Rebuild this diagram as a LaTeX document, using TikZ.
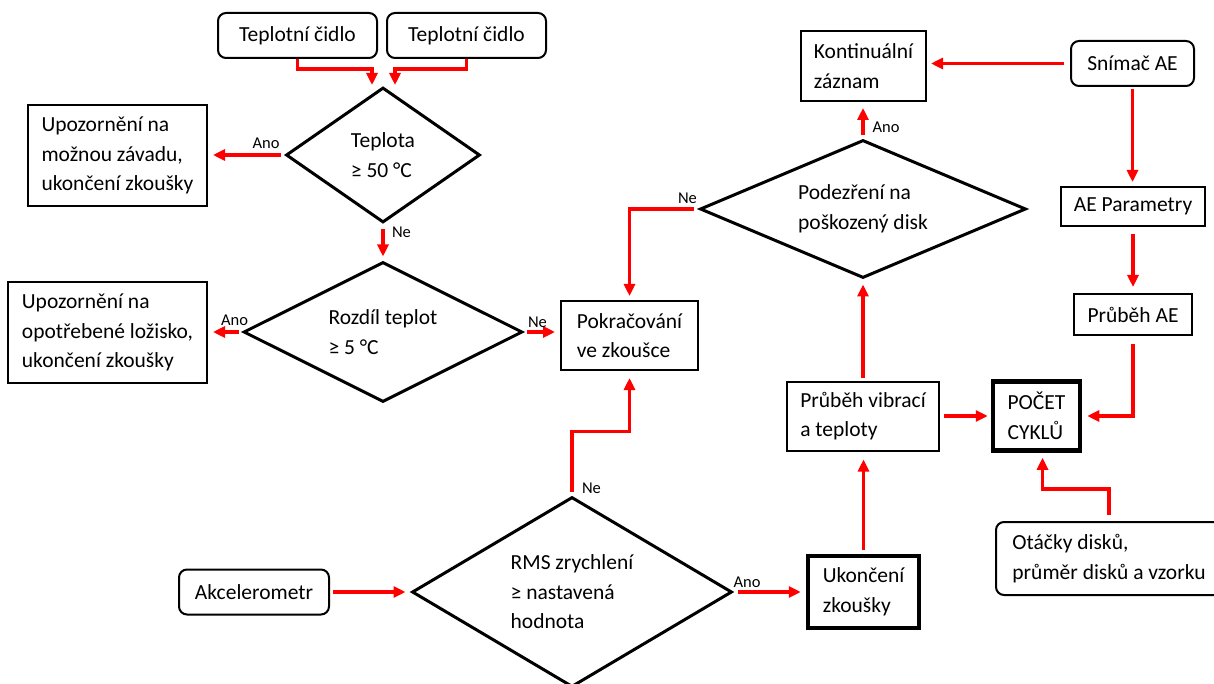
\documentclass[tikz,border=0pt]{standalone}
\usepackage{fontspec}
\setmainfont{Carlito}
\usetikzlibrary{shapes.geometric,arrows.meta}
\begin{document}
\begin{tikzpicture}[x=1pt,y=-1pt,
  every node/.style={font=\fontsize{21.5}{29.5}\selectfont},
  box/.style={draw=black, line width=2pt, rectangle, align=left, inner sep=0pt},
  rbox/.style={box, rounded corners=8pt},
  tbox/.style={box, line width=4.5pt},
  dia/.style={draw=black, line width=3pt, diamond, align=left, inner sep=0pt},
  lbl/.style={font=\fontsize{16.5}{18}\selectfont, inner sep=0pt},
  arr/.style={draw=red, line width=3.3pt, -{Triangle[length=12pt,width=11pt]}},
]
\useasboundingbox (0,0) rectangle (1214,684);
\clip (0,0) rectangle (1214,684);
\fill[white] (0,0) rectangle (1214,684);

% nodes
\node[rbox, minimum width=159pt, minimum height=45pt] (tc1) at (297.5,35.5) {Teplotní čidlo};
\node[rbox, minimum width=159pt, minimum height=45pt] (tc2) at (466.5,35.5) {Teplotní čidlo};
\node[dia, minimum width=194pt, minimum height=135pt, shape aspect=1.44] (dT) at (383,155) {Teplota\\≥ 50 °C};
\node[box, minimum width=179pt, minimum height=101pt] (u1) at (117.5,155.5) {Upozornění na\\možnou závadu,\\ukončení zkoušky};
\node[dia, minimum width=279pt, minimum height=140pt, shape aspect=2] (dR) at (383,332) {Rozdíl teplot\\≥ 5 °C};
\node[box, minimum width=199pt, minimum height=101pt] (u2) at (107.5,332.5) {Upozornění na\\opotřebené ložisko,\\ukončení zkoušky};
\node[box, minimum width=137pt, minimum height=69pt] (pk) at (629.5,335.5) {Pokračování\\ve zkoušce};
\node[dia, minimum width=326pt, minimum height=138pt, shape aspect=2.36] (dP) at (863,209) {Podezření na\\poškozený disk};
\node[box, minimum width=125pt, minimum height=70pt] (kz) at (863.5,66) {Kontinuální\\záznam};
\node[rbox, minimum width=123pt, minimum height=45pt] (sn) at (1132.5,63.5) {Snímač AE};
\node[box, minimum width=144pt, minimum height=39pt] (ae) at (1133,206.5) {AE Parametry};
\node[box, minimum width=118pt, minimum height=41pt] (pa) at (1133,314.5) {Průběh AE};
\node[tbox, minimum width=87pt, minimum height=69pt] (pc) at (1036.5,416) {POČET\\CYKLŮ};
\node[box, minimum width=152pt, minimum height=69pt] (pv) at (863,416) {Průběh vibrací\\a teploty};
\node[tbox, minimum width=111pt, minimum height=72pt] (uk) at (863.5,592) {Ukončení\\zkoušky};
\node[rbox, minimum width=226pt, minimum height=73pt] (ot) at (1109,558.5) {Otáčky disků,\\průměr disků a vzorku};
\node[rbox, minimum width=150pt, minimum height=45pt] (ak) at (254,592) {Akcelerometr};
\node[dia, minimum width=320pt, minimum height=190pt, shape aspect=1.68] (dM) at (572,592) {RMS zrychlení\\≥ nastavená\\hodnota};

% connectors
\draw[arr] (tc1.south) -- ++(0,10) -| ([xshift=-11pt,yshift=1pt]dT.north);
\draw[arr] (tc2.south) -- ++(0,10) -| ([xshift=12pt,yshift=1pt]dT.north);
\draw[arr, shorten <=4pt, shorten >=5pt] (dT.west) -- (dT.west -| u1.east);
\draw[arr, shorten <=5pt, shorten >=4pt] (dT.south) -- (dR.north);
\draw[arr, shorten <=3pt, shorten >=5pt] (dR.west) -- (dR.west -| u2.east);
\draw[arr, shorten <=3pt, shorten >=5pt] (dR.east) -- (dR.east -| pk.west);
\draw[arr, shorten <=5pt, shorten >=4pt] (dP.west) -| (pk.north);
\draw[arr, shorten <=3pt, shorten >=6pt] (dP.north) -- (dP.north |- kz.south);
\draw[arr, shorten <=6pt, shorten >=4pt] (sn.west) -- (sn.west -| kz.east);
\draw[arr, shorten <=2pt, shorten >=4pt] (sn.south) -- (sn.south |- ae.north);
\draw[arr, shorten <=7pt, shorten >=6pt] (ae.south) -- (pa.north);
\draw[arr, shorten <=8pt, shorten >=5pt] (pa.south) |- (pc.east);
\draw[arr, shorten <=4pt, shorten >=3pt] (pv.east) -- (pv.east -| pc.west);
\draw[arr, shorten <=3pt, shorten >=5pt] (pv.north) -- (dP.south);
\draw[arr, shorten <=4pt, shorten >=8pt] (uk.north) -- (uk.north |- pv.south);
\draw[arr, shorten <=6pt, shorten >=5pt] (ot.north) -- ++(0,-32) -| ([xshift=6pt]pc.south);
\draw[arr, shorten <=3pt, shorten >=5pt] (ak.east) -- (ak.east -| dM.west);
\draw[arr, shorten <=4pt, shorten >=7pt] (dM.north) -- ++(0,-64) -| (pk.south);
\draw[arr, shorten <=4pt, shorten >=5pt] (dM.east) -- (uk.west);

% labels
\node[lbl] (lA1) at (266,143) {Ano};
\node[lbl] (lN1) at (401.5,232) {Ne};
\node[lbl] (lA2) at (234.5,320) {Ano};
\node[lbl] (lN2) at (537.5,322) {Ne};
\node[lbl] (lN3) at (687.5,198.5) {Ne};
\node[lbl] (lA3) at (886,127.5) {Ano};
\node[lbl] (lN4) at (591.5,488) {Ne};
\node[lbl] (lA4) at (747,582) {Ano};
\end{tikzpicture}
\end{document}
